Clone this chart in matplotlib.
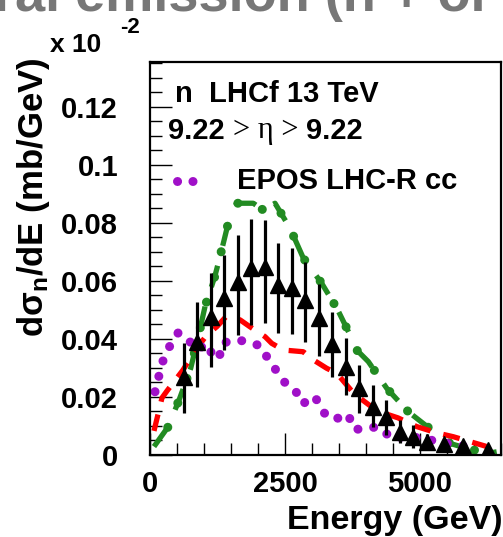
import matplotlib
matplotlib.use("Agg")
import matplotlib.pyplot as plt
import numpy as np

plt.rcParams['font.family'] = ['Liberation Sans', 'DejaVu Sans']
plt.rcParams['font.weight'] = 'bold'
plt.rcParams['mathtext.fontset'] = 'custom'
plt.rcParams['mathtext.rm'] = 'Liberation Sans:bold'
plt.rcParams['mathtext.it'] = 'Liberation Serif'
plt.rcParams['mathtext.bf'] = 'Liberation Sans:bold'

# ---- data (values shown in units of 10^-2 mb/GeV) ----
energy_data = [625, 875, 1125, 1375, 1625, 1875, 2125, 2375, 2625, 2875, 3125,
               3375, 3625, 3875, 4125, 4375, 4625, 4875, 5125, 5450, 5800, 6250]
xsec_data = [0.0270, 0.0391, 0.0477, 0.0541, 0.0598, 0.0644, 0.0648, 0.0587,
             0.0575, 0.0535, 0.0474, 0.0383, 0.0305, 0.0230, 0.0167, 0.0132,
             0.0080, 0.0063, 0.0046, 0.0038, 0.0031, 0.0017]
err_up = [0.0115, 0.0138, 0.0151, 0.0149, 0.0161, 0.0169, 0.0162, 0.0143,
          0.0138, 0.0132, 0.0116, 0.0110, 0.0098, 0.0080, 0.0075, 0.0058,
          0.0041, 0.0041, 0.0025, 0.0015, 0.0012, 0.0010]
err_down = [0.0125, 0.0155, 0.0172, 0.0179, 0.0184, 0.0195, 0.0192, 0.0167,
            0.0158, 0.0145, 0.0134, 0.0113, 0.0098, 0.0086, 0.0069, 0.0063,
            0.0040, 0.0040, 0.0025, 0.0015, 0.0012, 0.0010]

green_e = [74, 339, 543, 754, 895, 1019, 1204, 1346, 1494, 1606, 1913, 2093,
           2315, 2593, 2839, 3180, 3472, 3704, 3828, 4043, 4384, 4784, 5217,
           5556, 5865, 6265, 6420]
green_v = [0.0029, 0.0098, 0.0192, 0.0299, 0.0408, 0.0512, 0.0618, 0.0721,
           0.0834, 0.0868, 0.0868, 0.0845, 0.0868, 0.0782, 0.0679, 0.0592,
           0.0502, 0.0414, 0.0362, 0.0322, 0.0230, 0.0149, 0.0086, 0.0040,
           0.0023, 0.0006, 0.0011]

red_e = [74, 222, 315, 611, 833, 1055, 1241, 1407, 1667, 1852, 2130, 2254,
         2469, 2839, 3024, 3272, 3458, 3735, 3889, 4204, 4593, 4939, 5315,
         5617, 6204, 6426]
red_v = [0.0083, 0.0197, 0.0221, 0.0293, 0.0360, 0.0414, 0.0443, 0.0477,
         0.0466, 0.0442, 0.0408, 0.0385, 0.0362, 0.0356, 0.0328, 0.0299,
         0.0282, 0.0221, 0.0196, 0.0152, 0.0128, 0.0098, 0.0076, 0.0063,
         0.0031, 0.0017]

purple_e = [93, 167, 246, 370, 524, 680, 876, 1050, 1185, 1283, 1328, 1574,
            1820, 2069, 2191, 2365, 2532, 2685, 2839, 2932, 3056, 3198, 3395,
            3672, 3765, 3963, 4217, 4506, 4754, 5185, 5432, 5680, 5987]
purple_v = [0.0218, 0.0274, 0.0328, 0.0377, 0.0422, 0.0403, 0.0362, 0.0385,
            0.0334, 0.0334, 0.0385, 0.0397, 0.0391, 0.0374, 0.0328, 0.0285,
            0.0241, 0.0224, 0.0175, 0.0196, 0.0201, 0.0149, 0.0121, 0.0141,
            0.0089, 0.0089, 0.0098, 0.0054, 0.0066, 0.0052, 0.0042, 0.0035,
            0.0027]

y_ticks = [0, 0.02, 0.04, 0.06, 0.08, 0.1, 0.12]
y_ticklabels = ['0', '0.02', '0.04', '0.06', '0.08', '0.1', '0.12']
x_ticks = [0, 2500, 5000]
x_ticklabels = ['0', '2500', '5000']

W, H = 503, 537
fig = plt.figure(figsize=(W / 100, H / 100), dpi=100)
fig.patch.set_facecolor('white')
ax = fig.add_axes([150 / W, 82 / H, 351 / W, 393 / H])

green = '#228b22'
purple = '#a010c8'
red = '#ff0000'

# green: dash + dot pattern (two overlaid lines)
ax.plot(green_e, green_v, color=green, lw=3.8, linestyle=(0, (4.2, 3.9)),
        solid_capstyle='butt', dash_capstyle='butt', zorder=2)
ax.plot(green_e, green_v, color=green, lw=6.5, linestyle=(3.2, (0.01, 2.9)),
        dash_capstyle='round', zorder=2)
# red dashed
ax.plot(red_e, red_v, color=red, lw=3.8, linestyle=(0, (3.2, 2.5)),
        dash_capstyle='butt', zorder=2)
# purple dotted
ax.plot(purple_e, purple_v, color=purple, lw=6.5, linestyle=(0, (0.01, 1.75)),
        dash_capstyle='round', zorder=2)

# data
ax.errorbar(energy_data, xsec_data, yerr=[err_down, err_up], fmt='^',
            color='black', ms=11, elinewidth=2.3, capsize=0, zorder=3)

ax.set_xlim(0, 6500)
ax.set_ylim(0, 0.1355)
ax.set_xticks(x_ticks)
ax.set_xticklabels(x_ticklabels)
ax.set_yticks(y_ticks)
ax.set_yticklabels(y_ticklabels)
ax.set_xticks(np.arange(0, 6501, 500), minor=True)
ax.set_yticks(np.arange(0, 0.1355, 0.005), minor=True)
ax.tick_params(which='both', direction='in', top=False, right=False)
ax.tick_params(which='major', length=16, width=1.0, labelsize=21)
ax.tick_params(which='minor', length=8.5, width=1.0)
ax.tick_params(axis='y', which='major', pad=23)
ax.tick_params(axis='x', which='major', pad=11)
for lab in ax.get_xticklabels() + ax.get_yticklabels():
    lab.set_fontweight('bold')
for s in ax.spines.values():
    s.set_linewidth(1.6)
    s.set_color('black')

# axis titles
fig.text(1.0, (537 - 520) / H, 'Energy (GeV)', ha='right', va='center',
         fontsize=24.5, fontweight='bold')
fig.text(34 / W, (537 - 337) / H, r'd$\mathrm{\sigma}_{\mathrm{n}}$/dE (mb/GeV)',
         rotation=90, ha='center', va='bottom', fontsize=25, fontweight='bold')

# multiplier
fig.text(50 / W, 1 - 45 / H, 'x 10', ha='left', va='center', fontsize=19,
         fontweight='bold')
fig.text(120 / W, 1 - 28 / H, '-2', ha='left', va='center', fontsize=16,
         fontweight='bold')

# cut off title
fig.text(-24 / W, 1 - 11 / H, 'tral emission (n + or', ha='left',
         va='baseline', fontsize=39, fontweight='bold', color='#777777')

# annotations in plot
def ax_pt(px, py):
    return ((px - 150) / 351, (455 - py) / 393)

x0, y0 = ax_pt(175, 94)
ax.text(x0, y0, 'n  LHCf 13 TeV', transform=ax.transAxes, ha='left',
        va='center', fontsize=21, fontweight='bold')

x0, y0 = ax_pt(168, 139)
t1 = ax.text(x0, y0, '9.22 ', transform=ax.transAxes, ha='left',
             va='baseline', fontsize=21, fontweight='bold')
t2 = ax.annotate('> \u03b7 > ', xy=(1, 0), xycoords=t1, ha='left',
                 va='bottom', fontsize=22, family='Liberation Serif',
                 fontweight='normal')
t3 = ax.annotate('9.22', xy=(1, 0), xycoords=t2, ha='left', va='bottom',
                 fontsize=21, fontweight='bold')

lx0, ly = ax_pt(177, 181)
lx1, _ = ax_pt(197, 181)
ax.plot([lx0, lx1], [ly, ly], transform=ax.transAxes, color=purple, lw=6.5,
        linestyle=(0, (0.01, 1.7)), dash_capstyle='round', clip_on=False)
x0, y0 = ax_pt(237, 181)
ax.text(x0, y0, 'EPOS LHC-R cc', transform=ax.transAxes, ha='left',
        va='center', fontsize=21, fontweight='bold')

fig.savefig('out.png', dpi=100, facecolor='white')
